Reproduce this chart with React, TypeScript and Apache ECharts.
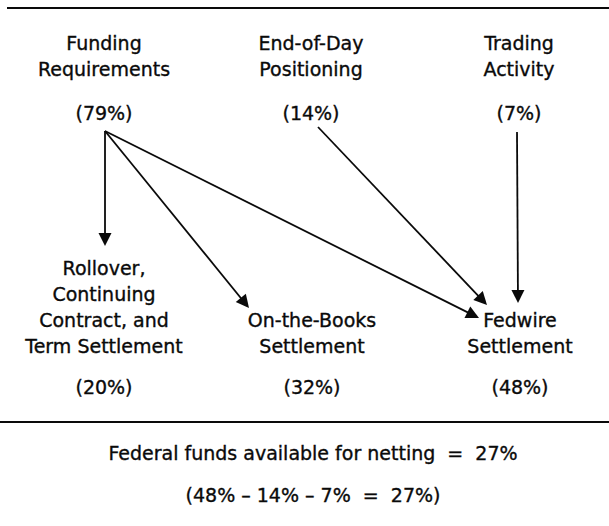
import React, { useEffect, useRef } from "react";
import * as echarts from "echarts";

// ---- Content ----
const sourceNames = ["Funding\nRequirements", "End-of-Day\nPositioning", "Trading\nActivity"];
const sourceShares = [79, 14, 7];
const destinationNames = [
  "Rollover,\nContinuing\nContract, and\nTerm Settlement",
  "On-the-Books\nSettlement",
  "Fedwire\nSettlement",
];
const destinationShares = [20, 32, 48];
// [source index, destination index]
const flows: [number, number][] = [
  [0, 0],
  [0, 1],
  [0, 2],
  [1, 2],
  [2, 2],
];
const nettingLabel = "Federal funds available for netting";
const nettingShare = 27;

// ---- Layout ----
const W = 609;
const H = 526;
const sourceX = [104, 311, 519];
const destinationX = [104, 312, 520];
const sourceStart: [number, number][] = [
  [105, 131],
  [318, 127],
  [517, 132],
];
const flowTips: [number, number][] = [
  [105, 246],
  [249, 308],
  [479, 318],
  [487, 305],
  [518, 303],
];
const ARROW = 13;
const FONT = "DejaVu Sans";
const INK = "#0a0a0a";

function pct(v: number) {
  return `(${v}%)`;
}

export default function App() {
  const ref = useRef<HTMLDivElement>(null);
  useEffect(() => {
    if (!ref.current) return;
    const chart = echarts.init(ref.current, undefined, { renderer: "svg" });

    const lineData = flows.map(([s], i) => {
      const [x1, y1] = sourceStart[s];
      const [tx, ty] = flowTips[i];
      const dx = tx - x1;
      const dy = ty - y1;
      const len = Math.sqrt(dx * dx + dy * dy);
      const ex = tx - (dx / len) * (ARROW / 2);
      const ey = ty - (dy / len) * (ARROW / 2);
      return { coords: [[x1, y1], [ex, ey]] };
    });

    const textStyle = (extra: any) => ({
      fill: INK,
      stroke: INK,
      lineWidth: 0.35,
      fontFamily: FONT,
      fontSize: 19,
      align: "center",
      lineHeight: 26,
      ...extra,
    });

    const graphics: any[] = [];
    sourceNames.forEach((name, i) => {
      graphics.push({
        type: "text",
        x: sourceX[i],
        y: 30,
        style: textStyle({ text: name, verticalAlign: "top" }),
      });
      graphics.push({
        type: "text",
        x: sourceX[i],
        y: 113,
        style: textStyle({ text: pct(sourceShares[i]), verticalAlign: "middle" }),
      });
    });
    destinationNames.forEach((name, i) => {
      graphics.push({
        type: "text",
        x: destinationX[i],
        y: 359,
        style: textStyle({ text: name, verticalAlign: "bottom" }),
      });
      graphics.push({
        type: "text",
        x: destinationX[i],
        y: 387,
        style: textStyle({ text: pct(destinationShares[i]), verticalAlign: "middle" }),
      });
    });
    graphics.push({
      type: "line",
      shape: { x1: 7, y1: 8, x2: W, y2: 8 },
      style: { stroke: INK, lineWidth: 1.8 },
    });
    graphics.push({
      type: "line",
      shape: { x1: 0, y1: 422, x2: W, y2: 422 },
      style: { stroke: INK, lineWidth: 1.8 },
    });
    graphics.push({
      type: "text",
      x: 313,
      y: 453,
      style: textStyle({ text: `${nettingLabel}  =  ${nettingShare}%`, verticalAlign: "middle" }),
    });
    const fed = destinationShares[2];
    graphics.push({
      type: "text",
      x: 313,
      y: 495,
      style: textStyle({
        text: `(${fed}% – ${sourceShares[1]}% – ${sourceShares[2]}%  =  ${nettingShare}%)`,
        verticalAlign: "middle",
      }),
    });

    chart.setOption({
      animation: false,
      grid: { left: 0, right: 0, top: 0, bottom: 0 },
      xAxis: { type: "value", min: 0, max: W, show: false },
      yAxis: { type: "value", min: 0, max: H, inverse: true, show: false },
      series: [
        {
          type: "lines",
          coordinateSystem: "cartesian2d",
          symbol: ["none", "triangle"],
          symbolSize: ARROW,
          lineStyle: { color: INK, width: 1.8, opacity: 1 },
          itemStyle: { color: INK },
          data: lineData,
          silent: true,
        },
      ],
      graphic: graphics,
    });
    return () => chart.dispose();
  }, []);
  return (
    <div
      ref={ref}
      style={{ position: "absolute", left: 0, top: 0, width: W, height: H, background: "#fff" }}
    />
  );
}
